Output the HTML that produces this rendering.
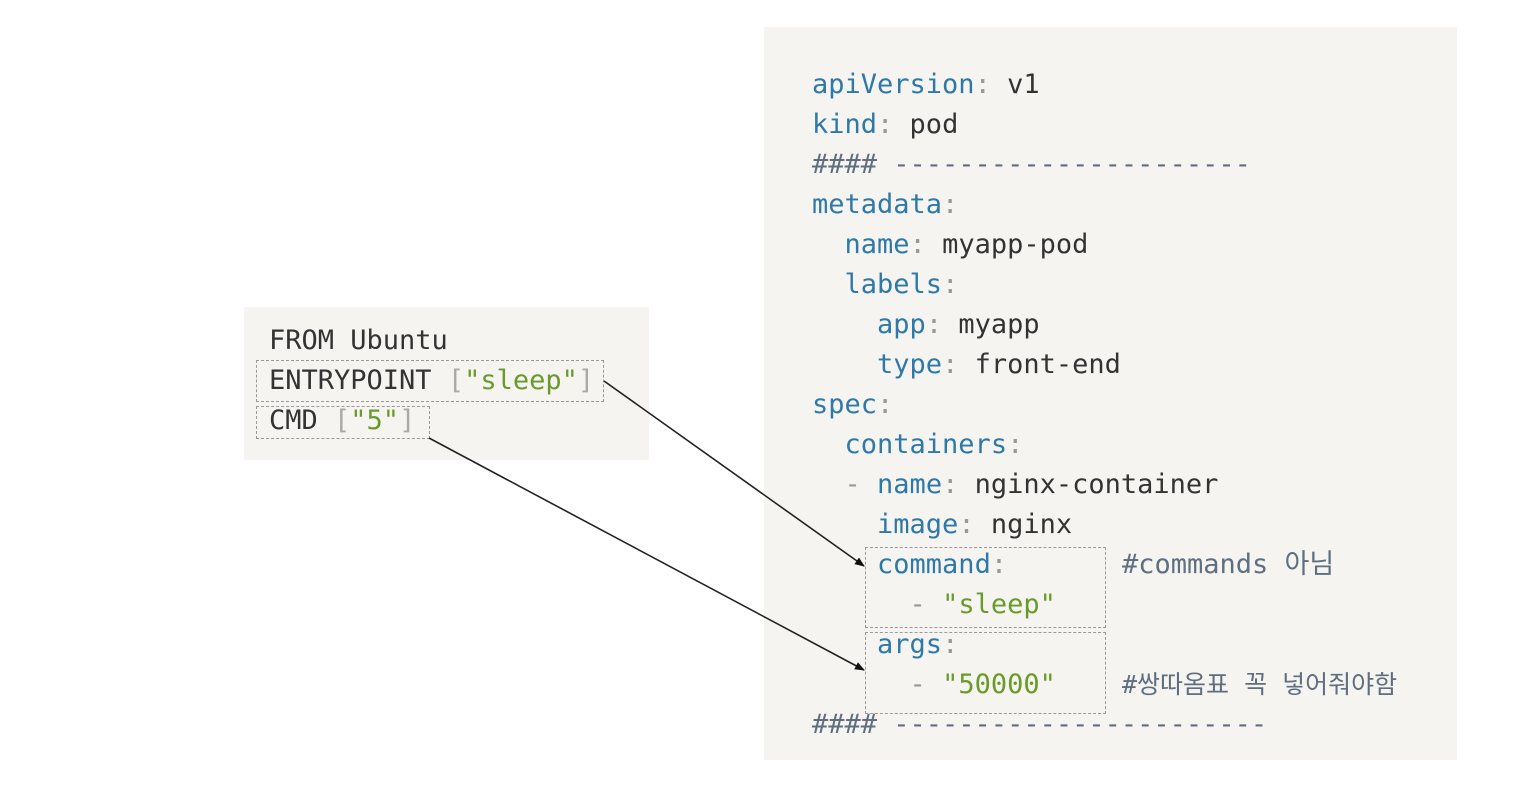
<!DOCTYPE html>
<html><head><meta charset="utf-8"><style>
body{margin:0;width:1532px;height:794px;background:#fff;position:relative;overflow:hidden;font-family:"DejaVu Sans Mono","Liberation Mono","Noto Sans CJK KR",monospace;font-size:27px;color:#333}
.p{position:absolute;background:#f5f4f1}
.l{position:absolute;white-space:pre;line-height:40px;height:40px}
.k{color:#2f79a8}.c{color:#999}.g{color:#6a9b2a}.m{color:#5f6f80}.b{color:#aaa}
.d{position:absolute;border:1.5px dashed #9a9a9a}
.cm{font-family:"DejaVu Sans Mono","Noto Sans CJK KR",monospace}
</style></head><body>
<div class="p" style="left:764px;top:27px;width:693px;height:733px"></div>
<div class="p" style="left:244px;top:307px;width:405px;height:153px"></div>

<div class="d" style="left:256px;top:360px;width:346px;height:40px"></div>
<div class="d" style="left:256px;top:406px;width:172px;height:31px"></div>
<div class="d" style="left:865px;top:547px;width:239px;height:79px"></div>
<div class="d" style="left:865px;top:632px;width:239px;height:80px"></div>

<div class="l" style="left:269px;top:321px">FROM Ubuntu</div>
<div class="l" style="left:269px;top:361px">ENTRYPOINT <span class="b">[</span><span class="g">"sleep"</span><span class="b">]</span></div>
<div class="l" style="left:269px;top:401px">CMD <span class="b">[</span><span class="g">"5"</span><span class="b">]</span></div>

<div class="l" style="left:812px;top:65px"><span class="k">apiVersion</span><span class="c">:</span> v1</div>
<div class="l" style="left:812px;top:105px"><span class="k">kind</span><span class="c">:</span> pod</div>
<div class="l m" style="left:812px;top:145px">#### ----------------------</div>
<div class="l" style="left:812px;top:185px"><span class="k">metadata</span><span class="c">:</span></div>
<div class="l" style="left:812px;top:225px">  <span class="k">name</span><span class="c">:</span> myapp-pod</div>
<div class="l" style="left:812px;top:265px">  <span class="k">labels</span><span class="c">:</span></div>
<div class="l" style="left:812px;top:305px">    <span class="k">app</span><span class="c">:</span> myapp</div>
<div class="l" style="left:812px;top:345px">    <span class="k">type</span><span class="c">:</span> front-end</div>
<div class="l" style="left:812px;top:385px"><span class="k">spec</span><span class="c">:</span></div>
<div class="l" style="left:812px;top:425px">  <span class="k">containers</span><span class="c">:</span></div>
<div class="l" style="left:812px;top:465px">  <span class="c">-</span> <span class="k">name</span><span class="c">:</span> nginx-container</div>
<div class="l" style="left:812px;top:505px">    <span class="k">image</span><span class="c">:</span> nginx</div>
<div class="l" style="left:812px;top:545px">    <span class="k">command</span><span class="c">:</span></div>
<div class="l" style="left:812px;top:585px">      <span class="c">-</span> <span class="g">"sleep"</span></div>
<div class="l" style="left:812px;top:625px">    <span class="k">args</span><span class="c">:</span></div>
<div class="l" style="left:812px;top:665px">      <span class="c">-</span> <span class="g">"50000"</span></div>
<div class="l m" style="left:812px;top:705px">#### -----------------------</div>
<div class="l m cm" style="left:1122px;top:545px">#commands 아님</div>
<div class="l m cm" style="left:1122px;top:665px;font-size:25px">#쌍따옴표 꼭 넣어줘야함</div>

<svg style="position:absolute;left:0;top:0" width="1532" height="794">
<defs><marker id="a" markerWidth="10" markerHeight="8" refX="9" refY="4" orient="auto" markerUnits="userSpaceOnUse"><path d="M0,0 L10,4 L0,8 z" fill="#111"/></marker></defs>
<line x1="604" y1="381" x2="864" y2="566" stroke="#222" stroke-width="1.6" marker-end="url(#a)"/>
<line x1="429" y1="438" x2="864" y2="670" stroke="#222" stroke-width="1.6" marker-end="url(#a)"/>
</svg>
</body></html>
